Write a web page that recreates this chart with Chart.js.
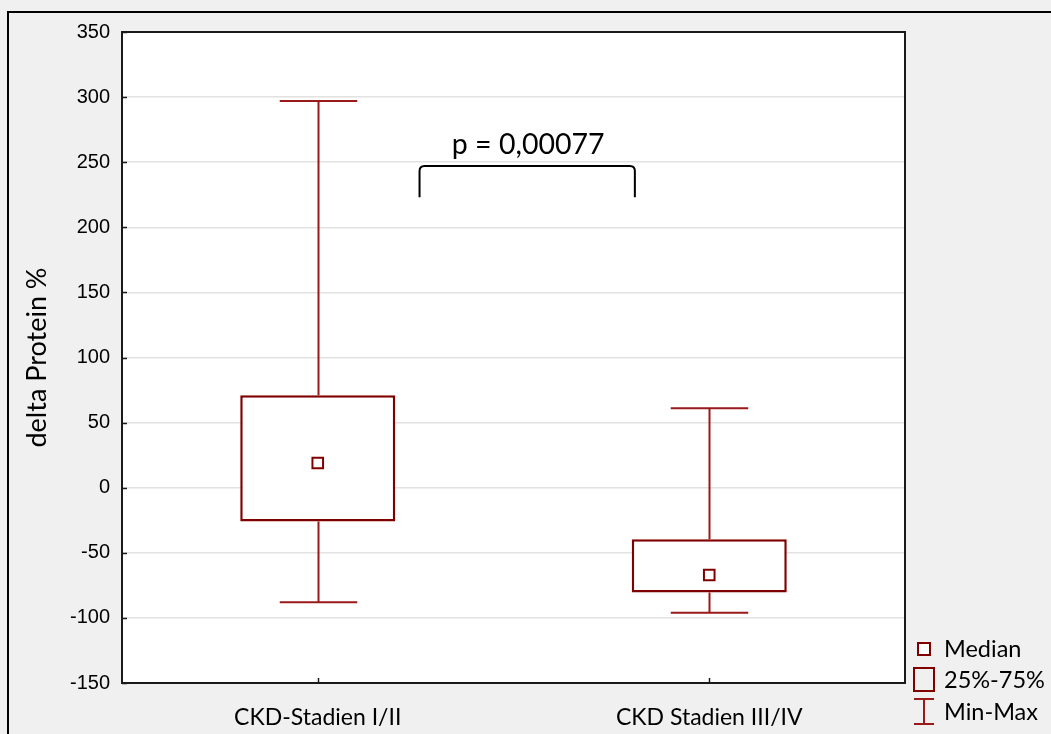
<!DOCTYPE html>
<html>
<head>
<meta charset="utf-8">
<script src="https://cdn.jsdelivr.net/npm/chart.js@4.4.1/dist/chart.umd.min.js"></script>
<style>
  html, body { margin: 0; padding: 0; background: #f0f0f0; overflow: hidden; }
  #wrap { width: 1051px; height: 734px; }
</style>
</head>
<body>
<div id="wrap"><canvas id="c" width="1051" height="734"></canvas></div>
<script>
// Box-plot summary per CKD group
const categories = ['CKD-Stadien I/II', 'CKD Stadien III/IV'];
const minValues = [-88, -96];
const q1Values = [-26, -80.5];
const medianValues = [19, -67];
const q3Values = [71, -39.5];
const maxValues = [297, 61];

// Significance bracket between the groups
const pLabel = 'p = 0,00077';
const bracketX = [0.26, 0.81];     // category-index positions of the two legs
const bracketY = [247, 223];       // top bar value, leg end value
const pLabelY = 263;

const legendLabels = ['Median', '25%-75%', 'Min-Max'];

const RED = '#800000';
const WHISKER = '#991a1a';
const LABEL_FONT = 'Lato, "Open Sans", sans-serif';

const frame = {
  id: 'frame',
  beforeDraw(chart) {
    const ctx = chart.ctx;
    const a = chart.chartArea;
    ctx.save();
    ctx.fillStyle = '#f0f0f0';
    ctx.fillRect(0, 0, chart.width, chart.height);
    ctx.fillStyle = '#ffffff';
    ctx.fillRect(a.left, a.top, a.right - a.left, a.bottom - a.top);
    // outer frame line
    ctx.strokeStyle = '#000';
    ctx.lineWidth = 2;
    ctx.beginPath();
    ctx.moveTo(8, chart.height + 2);
    ctx.lineTo(8, 12);
    ctx.lineTo(chart.width + 2, 12);
    ctx.stroke();
    ctx.restore();
  },
  beforeDatasetsDraw(chart) {
    // whiskers (min-max)
    const ctx = chart.ctx;
    const xs = chart.scales.x, ys = chart.scales.y;
    const bars = chart.getDatasetMeta(1).data;
    ctx.save();
    ctx.strokeStyle = WHISKER;
    ctx.lineWidth = 2;
    categories.forEach((c, i) => {
      const x = Math.round(xs.getPixelForValue(i)) + 0.5;
      const half = bars[i].width / 4;
      const yMin = ys.getPixelForValue(minValues[i]);
      const yMax = ys.getPixelForValue(maxValues[i]);
      const yQ1 = ys.getPixelForValue(q1Values[i]);
      const yQ3 = ys.getPixelForValue(q3Values[i]);
      ctx.beginPath();
      ctx.moveTo(x, yMax); ctx.lineTo(x, yQ3);
      ctx.moveTo(x, yQ1); ctx.lineTo(x, yMin);
      ctx.moveTo(x - half, yMax); ctx.lineTo(x + half, yMax);
      ctx.moveTo(x - half, yMin); ctx.lineTo(x + half, yMin);
      ctx.stroke();
    });
    ctx.restore();
  },
  afterDatasetsDraw(chart) {
    const ctx = chart.ctx;
    const a = chart.chartArea;
    const xs = chart.scales.x, ys = chart.scales.y;
    ctx.save();
    // plot border
    ctx.strokeStyle = '#1a1a1a';
    ctx.lineWidth = 2;
    ctx.strokeRect(a.left, a.top, a.right - a.left, a.bottom - a.top);
    // inward tick marks
    ctx.lineWidth = 1.5;
    ys.ticks.forEach((t) => {
      const y = Math.round(ys.getPixelForValue(t.value)) + 0.5;
      ctx.beginPath(); ctx.moveTo(a.left, y); ctx.lineTo(a.left + 5, y); ctx.stroke();
    });
    categories.forEach((c, i) => {
      const x = Math.round(xs.getPixelForValue(i)) + 0.5;
      ctx.beginPath(); ctx.moveTo(x, a.bottom); ctx.lineTo(x, a.bottom - 5); ctx.stroke();
    });

    // significance bracket
    const xl = xs.getPixelForValue(bracketX[0]);
    const xr = xs.getPixelForValue(bracketX[1]);
    const yt = ys.getPixelForValue(bracketY[0]);
    const yb = ys.getPixelForValue(bracketY[1]);
    const r = 5;
    ctx.strokeStyle = '#000';
    ctx.lineWidth = 2;
    ctx.beginPath();
    ctx.moveTo(xl, yb);
    ctx.lineTo(xl, yt + r);
    ctx.quadraticCurveTo(xl, yt, xl + r, yt);
    ctx.lineTo(xr - r, yt);
    ctx.quadraticCurveTo(xr, yt, xr, yt + r);
    ctx.lineTo(xr, yb);
    ctx.stroke();
    ctx.fillStyle = '#000';
    ctx.font = '28.5px ' + LABEL_FONT;
    ctx.textAlign = 'center';
    ctx.textBaseline = 'middle';
    ctx.fillText(pLabel, (xl + xr) / 2 + 1, ys.getPixelForValue(pLabelY));

    // legend
    const lx = 924;
    ctx.font = '23.5px ' + LABEL_FONT;
    ctx.textAlign = 'left';
    ctx.strokeStyle = RED;
    ctx.lineWidth = 2;
    ctx.fillStyle = '#fff';
    ctx.fillRect(lx - 6, 643, 12, 12);
    ctx.strokeRect(lx - 6, 643, 12, 12);
    ctx.strokeRect(lx - 10, 668, 20, 23);
    ctx.strokeStyle = WHISKER;
    ctx.beginPath();
    ctx.moveTo(lx - 10, 699); ctx.lineTo(lx + 10, 699);
    ctx.moveTo(lx, 699); ctx.lineTo(lx, 724);
    ctx.moveTo(lx - 10, 724); ctx.lineTo(lx + 10, 724);
    ctx.stroke();
    ctx.fillStyle = '#000';
    ctx.fillText(legendLabels[0], 944, 649);
    ctx.fillText(legendLabels[1], 944, 680);
    ctx.fillText(legendLabels[2], 944, 712);
    ctx.restore();
  }
};

new Chart(document.getElementById('c'), {
  data: {
    labels: categories,
    datasets: [
      {
        type: 'line',
        label: 'Median',
        data: medianValues,
        order: 1,
        showLine: false,
        pointStyle: 'rect',
        pointRadius: 7.5,
        pointHoverRadius: 7.5,
        pointBorderWidth: 2,
        pointBackgroundColor: '#ffffff',
        pointBorderColor: RED
      },
      {
        type: 'bar',
        label: '25%-75%',
        data: q1Values.map((v, i) => [v, q3Values[i]]),
        order: 2,
        backgroundColor: '#ffffff',
        borderColor: RED,
        borderWidth: 2.5,
        borderSkipped: false,
        barPercentage: 0.396,
        categoryPercentage: 1
      }
    ]
  },
  options: {
    responsive: false,
    animation: false,
    devicePixelRatio: 1,
    layout: { padding: { left: 8, right: 146, top: 32, bottom: 0 } },
    plugins: { legend: { display: false }, tooltip: { enabled: false } },
    scales: {
      x: {
        type: 'category',
        offset: true,
        grid: { display: false, drawTicks: false },
        border: { display: false },
        ticks: { color: '#000', font: { family: LABEL_FONT, size: 23 }, padding: 21, maxRotation: 0 },
        afterFit(s) { s.height = 51; }
      },
      y: {
        min: -150,
        max: 350,
        grid: { color: '#e2e2e2', lineWidth: 1.5, drawTicks: false },
        border: { display: false },
        ticks: { stepSize: 50, color: '#000', font: { family: '"Liberation Sans", Arial, sans-serif', size: 20 }, padding: 12 },
        title: { display: true, text: 'delta Protein %', color: '#000', font: { family: LABEL_FONT, size: 27 }, padding: { top: 13, bottom: 0 } },
        afterFit(s) { s.width = 114; }
      }
    }
  },
  plugins: [frame]
});
</script>
</body>
</html>
